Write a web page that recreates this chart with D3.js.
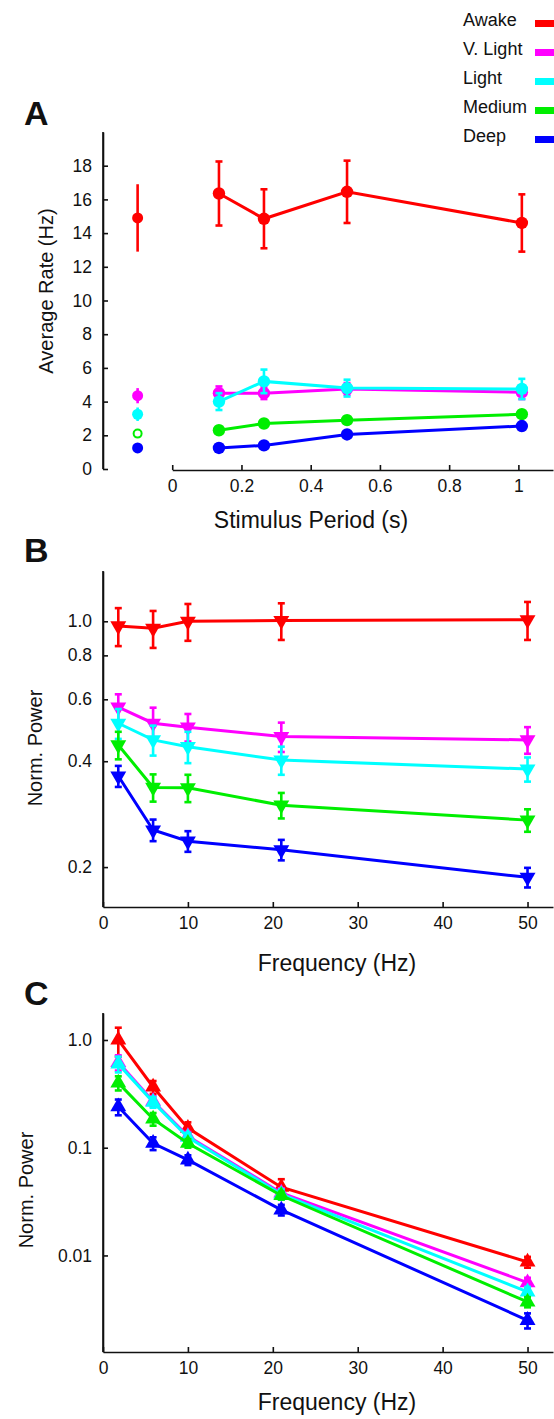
<!DOCTYPE html>
<html>
<head>
<meta charset="utf-8">
<script src="https://cdn.jsdelivr.net/npm/d3@7"></script>
<style>
  body { margin: 0; background: #fff; }
  svg text { font-family: 'Liberation Sans', Arial, sans-serif; fill: #111; }
  .axis path, .axis line { stroke: #111; stroke-width: 1.6; }
  .axis text { font-size: 17.5px; }
  .panel-letter { font-size: 34px; font-weight: bold; }
  .x-title { font-size: 23px; }
  .y-title { font-size: 20px; }
</style>
</head>
<body>
<svg id="svg-main" width="554" height="1419"></svg>
<script>
//////////////////////////////////////////////////////////////////////////////////////////
// Data
//////////////////////////////////////////////////////////////////////////////////////////
var states = ['Awake', 'V. Light', 'Light', 'Medium', 'Deep']
var colors = ['#ff0000', '#ff00ff', '#00ffff', '#00ee00', '#0000ff']

// panel A
var period_s = [0.135, 0.265, 0.505, 1.01]
var spont_period = -0.1
var rate_mean = [
  [16.35, 14.85, 16.45, 14.6],
  [4.5, 4.5, 4.75, 4.55],
  [4.0, 5.2, 4.8, 4.75],
  [2.3, 2.7, 2.9, 3.25],
  [1.25, 1.4, 2.05, 2.55]
]
var rate_err = [
  [1.9, 1.75, 1.85, 1.7],
  [0.4, 0.35, 0.35, 0.4],
  [0.5, 0.7, 0.5, 0.6],
  [0.2, 0.2, 0.2, 0.2],
  [0.15, 0.15, 0.15, 0.15]
]
var spont_mean = [14.9, 4.35, 3.25, 2.1, 1.25]
var spont_err = [2.0, 0.45, 0.4, 0.2, 0.15]
var rate_ticks = [0, 2, 4, 6, 8, 10, 12, 14, 16, 18]
var period_ticks = [0, 0.2, 0.4, 0.6, 0.8, 1]

// panel B
var freq_hz = [1.8, 5.9, 10, 21, 50]
var b_power = [
  [0.97, 0.955, 1.0, 1.005, 1.01],
  [0.57, 0.513, 0.50, 0.47, 0.46],
  [0.513, 0.46, 0.44, 0.403, 0.38],
  [0.445, 0.337, 0.336, 0.30, 0.272],
  [0.363, 0.255, 0.237, 0.224, 0.187]
]
var b_err = [
  [0.12, 0.115, 0.12, 0.12, 0.125],
  [0.05, 0.055, 0.045, 0.045, 0.04],
  [0.05, 0.045, 0.045, 0.037, 0.03],
  [0.04, 0.03, 0.03, 0.025, 0.02],
  [0.025, 0.018, 0.016, 0.015, 0.012]
]
var b_ticks = [0.2, 0.4, 0.6, 0.8, 1.0]

// panel C
var c_power = [
  [1.0, 0.366, 0.152, 0.043, 0.0087],
  [0.62, 0.27, 0.128, 0.038, 0.0056],
  [0.60, 0.265, 0.125, 0.037, 0.0046],
  [0.40, 0.185, 0.11, 0.036, 0.0037],
  [0.24, 0.11, 0.077, 0.0265, 0.0025]
]
var c_err = [
  [0.3, 0.05, 0.02, 0.008, 0.001],
  [0.1, 0.03, 0.012, 0.004, 0.0006],
  [0.1, 0.03, 0.012, 0.004, 0.0005],
  [0.06, 0.025, 0.01, 0.003, 0.0004],
  [0.04, 0.015, 0.008, 0.003, 0.0004]
]
var c_ticks = [0.01, 0.1, 1.0]
var freq_ticks = [0, 10, 20, 30, 40, 50]

//////////////////////////////////////////////////////////////////////////////////////////
// Layout
//////////////////////////////////////////////////////////////////////////////////////////
var svg = d3.select('#svg-main')
var left = 103
var right = 553

var xa = d3.scaleLinear().domain([-0.2, 1.1]).range([left, right])
var ya = d3.scaleLinear().domain([0, 20]).range([469, 132])

var xf = d3.scaleLinear().domain([0, 53]).range([left, right])
var yb = d3.scaleLog().domain([0.154, 1.39]).range([907, 571])
var yc = d3.scaleLog().domain([0.00127, 1.78]).range([1352, 1013])

//////////////////////////////////////////////////////////////////////////////////////////
// Main
//////////////////////////////////////////////////////////////////////////////////////////
draw_legend()
draw_panel_a()
draw_panel_power('b', yb, b_power, b_err, b_ticks, d3.format('.1f'), 180)
draw_panel_power('c', yc, c_power, c_err, c_ticks, function(d) { return d == 1 ? '1.0' : String(d) }, 0)

function draw_legend() {
  var g = svg.append('g').attr('id', 'g-legend')
  g.selectAll('text')
    .data(states)
    .enter()
    .append('text')
    .attr('x', 463)
    .attr('y', function(d, i) { return 26 + i * 29 })
    .style('font-size', '18px')
    .text(function(d) { return d })
  g.selectAll('rect')
    .data(states)
    .enter()
    .append('rect')
    .attr('x', 535)
    .attr('y', function(d, i) { return 20 + i * 29 })
    .attr('width', 20)
    .attr('height', 7)
    .attr('fill', function(d, i) { return colors[i] })
}

function y_axis(g, scale, ticks, fmt, x) {
  g.append('g')
    .attr('class', 'axis')
    .attr('transform', 'translate(' + x + ',0)')
    .call(d3.axisLeft(scale).tickValues(ticks).tickFormat(fmt)
      .tickSizeInner(-5).tickSizeOuter(0).tickPadding(11))
}

function x_axis(g, scale, ticks, y) {
  g.append('g')
    .attr('class', 'axis')
    .attr('transform', 'translate(0,' + y + ')')
    .call(d3.axisBottom(scale).tickValues(ticks).tickFormat(d3.format('~g'))
      .tickSizeInner(-5).tickSizeOuter(0).tickPadding(10))
}

function error_bar(g, x, y_lo, y_hi, color, cap) {
  g.append('line')
    .attr('x1', x).attr('x2', x)
    .attr('y1', y_lo).attr('y2', y_hi)
    .attr('stroke', color).attr('stroke-width', 2.6)
  if (cap) {
    [y_lo, y_hi].forEach(function(y) {
      g.append('line')
        .attr('x1', x - 3.5).attr('x2', x + 3.5)
        .attr('y1', y).attr('y2', y)
        .attr('stroke', color).attr('stroke-width', 2.6)
    })
  }
}

function draw_panel_a() {
  var g = svg.append('g').attr('id', 'g-panel-a')

  g.append('text').attr('class', 'panel-letter').attr('x', 24).attr('y', 125).text('A')

  // y axis, full height
  y_axis(g, ya, rate_ticks, d3.format('d'), left)
  g.append('line')
    .attr('x1', left).attr('x2', left)
    .attr('y1', ya.range()[1]).attr('y2', ya.range()[0])
    .attr('stroke', '#111').attr('stroke-width', 1.6)

  // x axis starts at 0
  var xa_cut = d3.scaleLinear().domain([0, 1.1]).range([xa(0), right])
  x_axis(g, xa_cut, period_ticks, 470)

  g.append('text').attr('class', 'y-title')
    .attr('text-anchor', 'middle')
    .attr('transform', 'translate(53,291) rotate(-90)')
    .text('Average Rate (Hz)')
  g.append('text').attr('class', 'x-title')
    .attr('text-anchor', 'middle')
    .attr('x', 311).attr('y', 528)
    .text('Stimulus Period (s)')

  var line = d3.line()
    .x(function(d, i) { return xa(period_s[i]) })
    .y(function(d) { return ya(d) })

  states.forEach(function(s, k) {
    var gs = g.append('g').attr('id', 'g-a-' + k)
    var c = colors[k]

    // spontaneous rate
    error_bar(gs, xa(spont_period), ya(spont_mean[k] - spont_err[k]), ya(spont_mean[k] + spont_err[k]), c, false)
    gs.append('circle')
      .attr('cx', xa(spont_period)).attr('cy', ya(spont_mean[k]))
      .attr('r', k == 3 ? 4 : 5.5)
      .attr('fill', k == 3 ? '#fff' : c)
      .attr('stroke', c).attr('stroke-width', k == 3 ? 2 : 0)

    gs.append('path')
      .attr('d', line(rate_mean[k]))
      .attr('fill', 'none').attr('stroke', c).attr('stroke-width', 3)

    rate_mean[k].forEach(function(v, i) {
      error_bar(gs, xa(period_s[i]), ya(v - rate_err[k][i]), ya(v + rate_err[k][i]), c, true)
      gs.append('circle')
        .attr('cx', xa(period_s[i])).attr('cy', ya(v))
        .attr('r', 6.2).attr('fill', c)
    })
  })
}

function draw_panel_power(id, ys, power, err, ticks, fmt, rot) {
  var g = svg.append('g').attr('id', 'g-panel-' + id)
  var top = ys.range()[1]
  var bottom = ys.range()[0]

  var letter = { b: ['B', 562], c: ['C', 1005] }[id]
  g.append('text').attr('class', 'panel-letter').attr('x', 24).attr('y', letter[1]).text(letter[0])

  y_axis(g, ys, ticks, fmt, left)
  x_axis(g, xf, freq_ticks, bottom)
  g.append('line')
    .attr('x1', left).attr('x2', left)
    .attr('y1', top).attr('y2', bottom)
    .attr('stroke', '#111').attr('stroke-width', 1.6)

  var ylab = { b: [42, 748], c: [33, 1190] }[id]
  g.append('text').attr('class', 'y-title')
    .attr('text-anchor', 'middle')
    .attr('transform', 'translate(' + ylab[0] + ',' + ylab[1] + ') rotate(-90)')
    .text('Norm. Power')
  g.append('text').attr('class', 'x-title')
    .attr('text-anchor', 'middle')
    .attr('x', 337).attr('y', bottom + (id == 'b' ? 64 : 58))
    .text('Frequency (Hz)')

  var line = d3.line()
    .x(function(d, i) { return xf(freq_hz[i]) })
    .y(function(d) { return ys(d) })

  var marker = d3.symbol().type(d3.symbolTriangle).size(110)

  states.forEach(function(s, k) {
    var gs = g.append('g').attr('id', 'g-' + id + '-' + k)
    var c = colors[k]
    gs.append('path')
      .attr('d', line(power[k]))
      .attr('fill', 'none').attr('stroke', c).attr('stroke-width', 3)

    power[k].forEach(function(v, i) {
      error_bar(gs, xf(freq_hz[i]), ys(v - err[k][i]), ys(v + err[k][i]), c, true)
      gs.append('path')
        .attr('d', marker())
        .attr('transform', 'translate(' + xf(freq_hz[i]) + ',' + ys(v) + ') rotate(' + rot + ')')
        .attr('fill', c)
    })
  })
}
</script>
</body>
</html>
